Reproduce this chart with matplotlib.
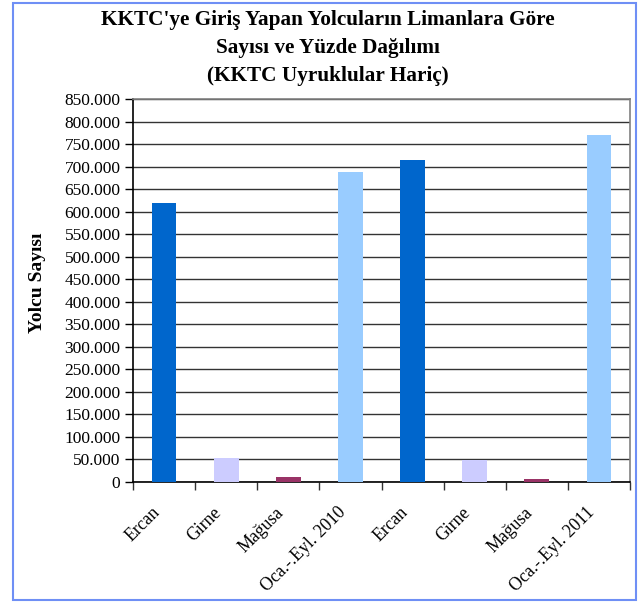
import matplotlib
matplotlib.use("Agg")
import matplotlib.pyplot as plt
from matplotlib.patches import Rectangle
from matplotlib.ticker import FuncFormatter, MultipleLocator
from matplotlib.transforms import ScaledTranslation

categories = ["Ercan", "Girne", "Mağusa", "Oca.-.Eyl. 2010",
              "Ercan", "Girne", "Mağusa", "Oca.-.Eyl. 2011"]
values = [620000, 53000, 11000, 687000, 714000, 49000, 7000, 769000]
colors = ["#0066CC", "#CCCCFF", "#993366", "#99CCFF",
          "#0066CC", "#CCCCFF", "#993366", "#99CCFF"]
title = "KKTC'ye Giriş Yapan Yolcuların Limanlara Göre\nSayısı ve Yüzde Dağılımı\n(KKTC Uyruklular Hariç)"
ylabel = "Yolcu Sayısı"

plt.rcParams['font.family'] = ['Liberation Serif', 'DejaVu Serif']

fig = plt.figure(figsize=(6.4, 6.03), dpi=100)
ax = fig.add_axes([133/640, 1-482/603, (630-133)/640, (482-99)/603])

x = list(range(len(categories)))
ax.bar(x, values, width=0.4, color=colors, zorder=3)
ax.set_xlim(-0.5, len(categories)-0.5)
ax.set_ylim(0, 850000)
ax.yaxis.set_major_locator(MultipleLocator(50000))
ax.yaxis.set_major_formatter(FuncFormatter(lambda v, p: "0" if v == 0 else f"{int(v):,}".replace(",", ".")))
ax.grid(axis='y', color='#333333', linewidth=1, zorder=1)

ax.set_xticks([i - 0.5 for i in range(len(categories)+1)])
ax.set_xticklabels([])
ax.tick_params(axis='x', which='major', length=6, width=1, color='#333333')
ax.tick_params(axis='y', length=6, width=1, labelsize=12.5, pad=3)

off = ScaledTranslation(-13/100, -22/100, fig.dpi_scale_trans)
for i, cat in zip(x, categories):
    ax.text(i, 0, cat, transform=ax.get_xaxis_transform() + off,
            rotation=45, ha='right', va='top', rotation_mode='anchor',
            fontsize=12.8)

for s in ['left', 'bottom']:
    ax.spines[s].set_color('black')
    ax.spines[s].set_linewidth(1.2)
for s in ['top', 'right']:
    ax.spines[s].set_color('#808080')
    ax.spines[s].set_linewidth(1.2)

fig.text(37/640, 1-283/603, ylabel, rotation=90, ha='center', va='center',
         fontsize=14, fontweight='bold')
fig.text(0.5 + 8/640, 1-48/603, title, ha='center', va='center', fontsize=15.3,
         fontweight='bold', linespacing=1.55)

fig.patches.append(Rectangle((13/640, 3/603), (636-13)/640, (600-3)/603,
                             transform=fig.transFigure, fill=False,
                             edgecolor='#6f8ff5', linewidth=1.5))

fig.savefig("out.png", dpi=100)
